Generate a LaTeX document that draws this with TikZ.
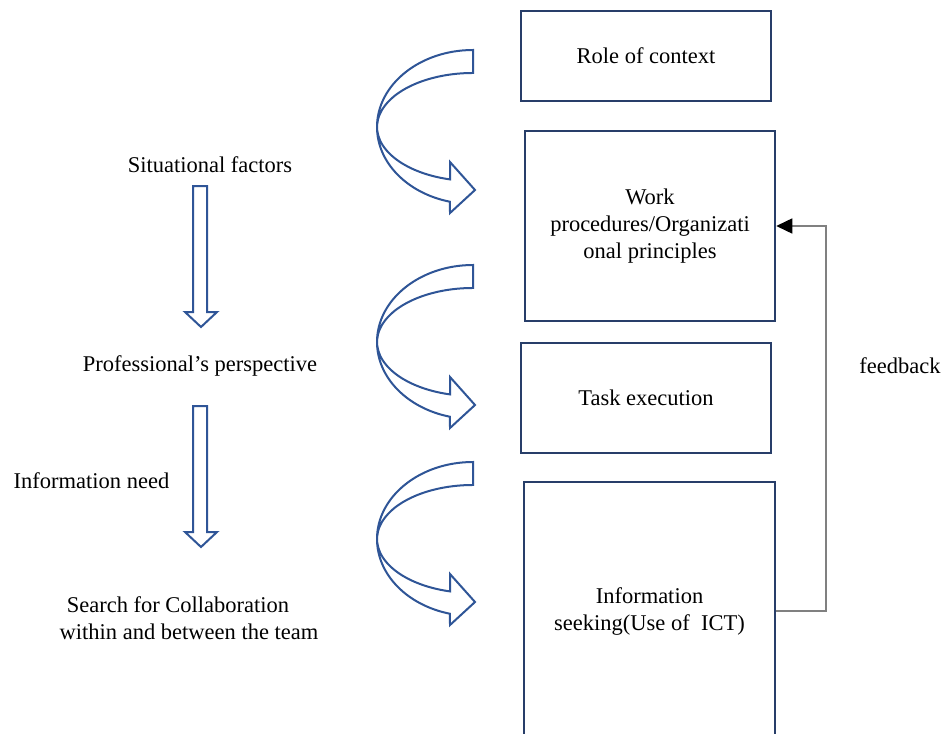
\documentclass[tikz,border=0pt]{standalone}
\usepackage{fontspec}
\setmainfont{Liberation Serif}
\usetikzlibrary{arrows.meta}
\definecolor{boxblue}{RGB}{40,62,105}
\definecolor{arrblue}{RGB}{47,85,151}
\definecolor{fbgray}{RGB}{128,128,128}
\tikzset{
  box/.style={draw=boxblue, line width=2.5pt, rectangle, align=center, inner sep=0pt},
  lbl/.style={align=center, inner sep=0pt},
  bigarrow/.style={draw=arrblue, line width=2pt, fill=white, line join=miter},
  fbline/.style={draw=fbgray, line width=1.5pt, -{Triangle[length=16pt,width=15pt,color=black]}},
}
\newcommand\curvedarr[1]{%
  \draw[bigarrow] (473,#1)
    arc[start angle=-90, end angle=-256.1, x radius=96, y radius=77]
    -- (450,#1+163) -- (475,#1+140) -- (450,#1+112) -- (450,#1+129.4)
    arc[start angle=-256.1, end angle=-90, x radius=96, y radius=54]
    -- cycle;}
\newcommand\downarr[1]{%
  \draw[bigarrow] (193,#1) -- (207,#1) -- (207,#1+126) -- (217,#1+126)
    -- (201,#1+141) -- (185,#1+126) -- (193,#1+126) -- cycle;}
\begin{document}
\begin{tikzpicture}[x=1pt, y=-1pt, font=\fontsize{22.5}{27}\selectfont]
\clip (0,0) rectangle (944,733);
\fill[white] (0,0) rectangle (944,733);

% boxes
\node[box, minimum width=250pt, minimum height=90pt] (b1) at (646,56) {Role of context};
\node[box, minimum width=250pt, minimum height=190pt] (b2) at (650,226) {Work\\procedures/Organizati\\onal principles};
\node[box, minimum width=250pt, minimum height=110pt] (b3) at (646,398) {Task execution};
\node[box, minimum width=251pt, minimum height=258pt] (b4) at (649.5,611) {Information\\seeking(Use of\ \ ICT)};

% left labels
\node[lbl] (t1) at (210,165) {Situational factors};
\node[lbl] (t2) at (200,366) {Professional’s perspective};
\node[lbl] (t3) at (91.5,481) {Information need};
\node[lbl] (t4) at (189,618) {Search for Collaboration\hspace*{22pt}\\within and between the team};
\node[lbl] (fbt) at (900,366) {feedback};

% block arrows
\curvedarr{50}
\curvedarr{265}
\curvedarr{462}
\downarr{186}
\downarr{406}

% feedback connector
\draw[fbline] (b4.east) -- (826,611) |- (b2.east);
\end{tikzpicture}
\end{document}
